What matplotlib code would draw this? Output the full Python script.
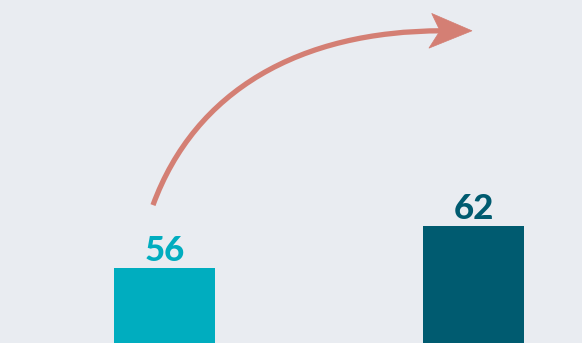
import matplotlib
matplotlib.use('Agg')
import matplotlib.pyplot as plt
import matplotlib.transforms as mtransforms
from matplotlib.patches import PathPatch, Polygon
from matplotlib.path import Path

# ── data ──────────────────────────────────────────────────────────────────────
values = [56, 62]
bar_colors = ['#00adbf', '#005b70']

BG = '#e9ecf1'
ARROW = '#d47f74'

fig = plt.figure(figsize=(5.82, 3.43), dpi=100)
fig.patch.set_facecolor(BG)
ax = fig.add_axes([0, 0, 1, 1])
ax.set_facecolor(BG)

xs = range(len(values))
ax.bar(xs, values, width=0.327, color=bar_colors, zorder=2)

for x, v, c in zip(xs, values, bar_colors):
    ax.annotate(str(v), (x, v), xytext=(0, 1), textcoords='offset points',
                ha='center', va='bottom', fontsize=25, fontweight='black',
                family=['Lato', 'DejaVu Sans'], color=c)

ax.set_xlim(-0.532, 1.351)
ax.set_ylim(45.3, 94.3)
ax.axis('off')

# ── curved growth arrow ──────────────────────────────────────────────────────
tip = (0.995, 89.9)
verts = [(-0.037, 65.0), (0.099, 81.4), (0.439, 89.9), (0.90, 89.9)]
path = Path(verts, [Path.MOVETO, Path.CURVE4, Path.CURVE4, Path.CURVE4])
ax.add_patch(PathPatch(path, facecolor='none', edgecolor=ARROW, lw=3.8,
                       capstyle='butt', zorder=3))

# swept-back arrow head, sized in points around the tip
head_pts = [(0, 0), (-29, 12.5), (-23, 0), (-31, -12.5)]
trans = (mtransforms.Affine2D().scale(fig.dpi / 72)
         + mtransforms.ScaledTranslation(tip[0], tip[1], ax.transData))
ax.add_patch(Polygon(head_pts, closed=True, facecolor=ARROW, edgecolor=ARROW,
                     lw=0.5, transform=trans, zorder=3))

fig.savefig('out.png', dpi=100, facecolor=BG)
